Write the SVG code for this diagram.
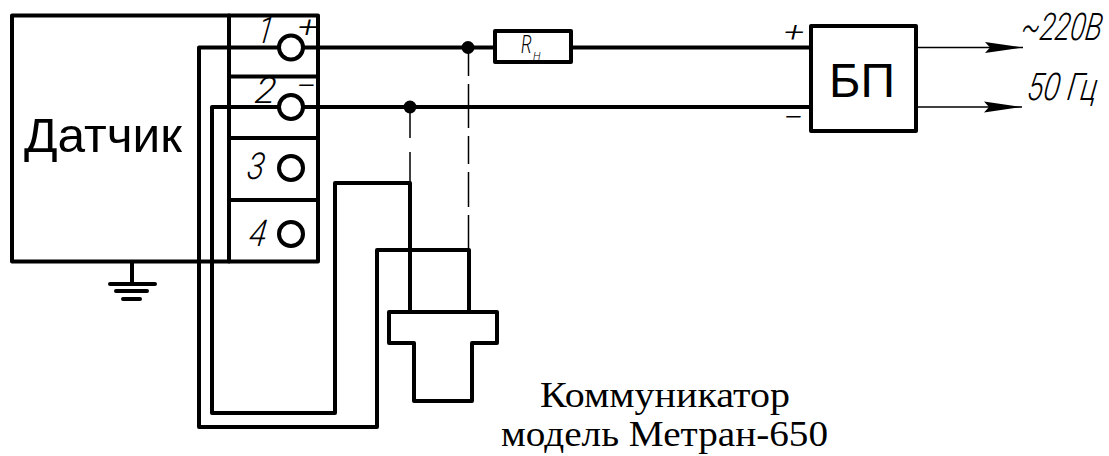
<svg xmlns="http://www.w3.org/2000/svg" width="1109" height="456" viewBox="0 0 1109 456">
<style>
.k{fill:none;stroke:#000;stroke-width:4;stroke-linejoin:round;stroke-linecap:round}
.t{fill:none;stroke:#000;stroke-width:1.5}
.g{font-family:"Roboto","Liberation Sans",sans-serif;font-style:italic;font-weight:300;fill:#000}
.s{font-family:"Liberation Sans",Arial,sans-serif;fill:#000}
.c{font-family:"Liberation Serif","Times New Roman",serif;fill:#000}
.d{fill:#000}
</style>
<defs><marker id="a" markerUnits="userSpaceOnUse" markerWidth="40" markerHeight="12" refX="38" refY="6" orient="auto"><path d="M0 .5L38 6L0 11.500L5 6Z" fill="#000"/></marker></defs>
<rect width="1109" height="456" fill="#fff"/>
<g id="connectors">
<path class="k" d="M303 47.500H495M571 47.500H811"/>
<path class="k" d="M279 47.500H199V427H377V250H469V312"/>
<path class="k" d="M279 107H212V413H335V183H410V312"/>
<path class="k" d="M303 107H811"/>
<path class="t" d="M410 107V138M410 152V183"/>
<path class="t" d="M468.500 47V76M468.500 84V128M468.500 136V164M468.500 172V207M468.500 215V250"/>
<path class="t" d="M916 47.500H1023" marker-end="url(#a)"/>
<path class="t" d="M916 107H1022" marker-end="url(#a)"/>
<circle class="d" cx="468" cy="47.500" r="6.500"/>
<circle class="d" cx="410" cy="107" r="6.500"/>
</g>
<g id="sensor">
<path class="k" d="M229 15.500H12V261.500H229"/>
<text class="s" x="24" y="152" font-size="48.500" textLength="158" lengthAdjust="spacingAndGlyphs">Датчик</text>
</g>
<g id="ground">
<path class="k" d="M132 262V284M110 284H155M116 291H147M123 299H140"/>
</g>
<g id="terminals">
<path class="k" d="M229 15.500H318V261.500H229ZM229 76.500H318M229 138H318M229 200H318"/>
<circle class="k" cx="291" cy="47.500" r="12"/>
<circle class="k" cx="291" cy="107" r="12"/>
<circle class="k" cx="291" cy="168" r="12"/>
<circle class="k" cx="291" cy="234" r="12"/>
<text class="g" x="0" y="0" transform="translate(256 43) skewX(-8)" font-size="37" textLength="16" lengthAdjust="spacingAndGlyphs">1</text>
<text class="g" x="0" y="0" transform="translate(254 103) skewX(-8)" font-size="37" textLength="20" lengthAdjust="spacingAndGlyphs">2</text>
<text class="g" x="0" y="0" transform="translate(246 179) skewX(-8)" font-size="37" textLength="17" lengthAdjust="spacingAndGlyphs">3</text>
<text class="g" x="0" y="0" transform="translate(248 246) skewX(-8)" font-size="37" textLength="17" lengthAdjust="spacingAndGlyphs">4</text>
<text class="g" x="298" y="37" font-size="30" font-weight="500" textLength="20" lengthAdjust="spacingAndGlyphs">+</text>
<text class="g" x="296" y="96" font-size="30" textLength="20" lengthAdjust="spacingAndGlyphs">−</text>
</g>
<g id="resistor">
<rect class="k" x="495" y="31" width="76" height="31"/>
<text class="g" x="0" y="0" transform="translate(521 53) scale(.7 1)" font-size="25">R</text>
<text class="g" x="533" y="60" font-size="11">Н</text>
</g>
<g id="psu">
<rect class="k" x="811" y="26" width="105" height="105"/>
<text class="s" x="829" y="97" font-size="48">БП</text>
<text class="g" x="784" y="42" font-size="28" font-weight="500" textLength="20" lengthAdjust="spacingAndGlyphs">+</text>
<text class="g" x="783" y="127" font-size="28" font-weight="500" textLength="20" lengthAdjust="spacingAndGlyphs">−</text>
</g>
<g id="communicator">
<path class="k" d="M389 312H497V343H472V401H414V343H389Z"/>
<text class="c" x="540" y="407" font-size="36" textLength="250" lengthAdjust="spacingAndGlyphs">Коммуникатор</text>
<text class="c" x="501" y="446" font-size="36" textLength="327" lengthAdjust="spacingAndGlyphs">модель Метран-650</text>
</g>
<text class="g" x="0" y="0" transform="translate(1020 40) skewX(-8) scale(.74 1)" font-size="38">~220В</text>
<text class="g" x="0" y="0" transform="translate(1026 100) skewX(-8) scale(.8 1)" font-size="38">50 Гц</text>
</svg>
